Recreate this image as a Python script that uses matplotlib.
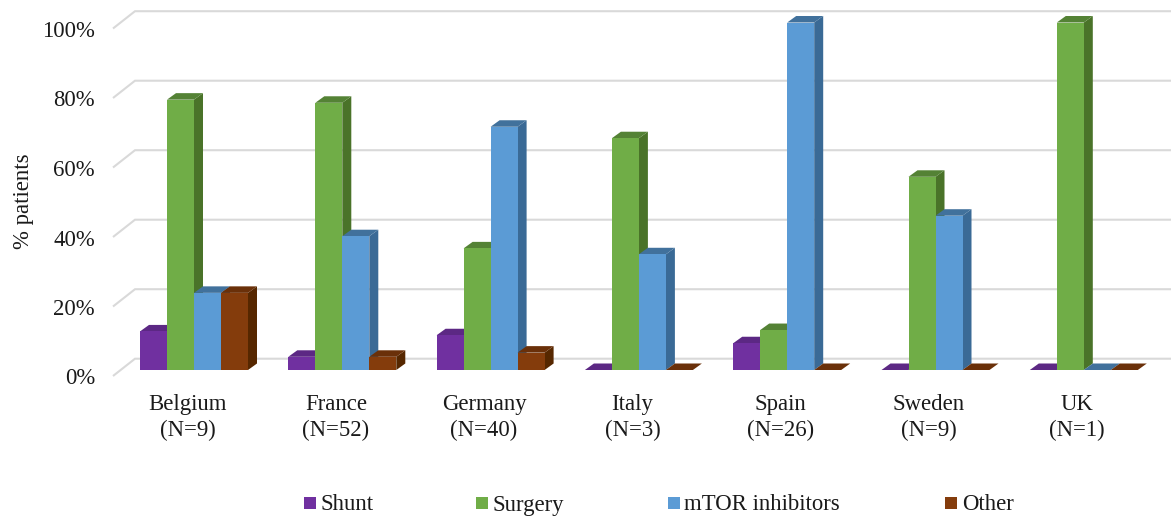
#!/bin/env python3

import matplotlib
matplotlib.use("Agg")
import matplotlib.pyplot as plt
from matplotlib.patches import Polygon, Rectangle
from matplotlib.transforms import ScaledTranslation

plt.rcParams["font.family"] = ["Liberation Serif", "DejaVu Serif"]

countries = ["Belgium", "France", "Germany", "Italy", "Spain", "Sweden", "UK"]
counts = [9, 52, 40, 3, 26, 9, 1]

# percent of patients per country
shunt = [11.1, 3.8, 10.0, 0.0, 7.7, 0.0, 0.0]
surgery = [77.8, 76.9, 35.0, 66.7, 11.5, 55.6, 100.0]
mtor = [22.2, 38.5, 70.0, 33.3, 100.0, 44.4, 0.0]
other = [22.2, 3.8, 5.0, 0.0, 0.0, 0.0, 0.0]

series_names = ["Shunt", "Surgery", "mTOR inhibitors", "Other"]
y_ticks = [0, 20, 40, 60, 80, 100]

W, H = 1171, 517
FS = 16.4
TXT = "#1a1a1a"

# pixel scales of the front plane
px_x = 148.3   # pixels per category
px_y = 3.475   # pixels per percent
left, right, top, floor = 113, 1171, 22.5, 370

front = ["#7030A0", "#70AD47", "#5B9BD5", "#843C0C"]
side = ["#4F2272", "#4A7329", "#3A6A96", "#562700"]
cap = ["#5C2884", "#548235", "#41719C", "#6A3009"]

fig = plt.figure(figsize=(W/100, H/100), dpi=100, facecolor="white")
ax = fig.add_axes([left/W, 1 - floor/H, (right - left)/W, (floor - top)/H])
ax.set_xlim((left - 187.5)/px_x, (right - 187.5)/px_x)
ax.set_ylim(0, (floor - top)/px_y)
for s in ax.spines.values():
    s.set_visible(False)

# floor/wall gridlines: left stub in front, then along the back wall
gx = [(left - 187.5)/px_x, (135 - 187.5)/px_x, (right - 187.5)/px_x]
for v in y_ticks:
    gy = [v - 6/px_y, v + 11.3/px_y, v + 11.3/px_y]
    ax.plot(gx, gy, color="#D9D9D9", lw=1.5, clip_on=False, zorder=1,
            solid_capstyle="butt", solid_joinstyle="miter")

# bars: box depth goes up and to the right
bw = 27/px_x
dx = 9/px_x
dy = 6.5/px_y
shift = 6.5/px_x
for j, vals in enumerate([shunt, surgery, mtor, other]):
    z = 2 + j
    for i, v in enumerate(vals):
        x0 = i + shift + (j - 2)*bw
        x1 = x0 + bw
        ax.add_patch(Polygon([(x1, 0), (x1 + dx, dy), (x1 + dx, v + dy), (x1, v)],
                             facecolor=side[j], edgecolor="none", zorder=z, clip_on=False))
        ax.add_patch(Polygon([(x0, v), (x1, v), (x1 + dx, v + dy), (x0 + dx, v + dy)],
                             facecolor=cap[j], edgecolor="none", zorder=z, clip_on=False))
    ax.bar([i + shift + (j - 1.5)*bw for i in range(len(vals))], vals, width=bw,
           color=front[j], zorder=z, clip_on=False)

ax.set_xticks(range(len(countries)))
ax.set_xticklabels([f"{c}\n(N={n})" for c, n in zip(countries, counts)],
                   fontsize=FS, color=TXT, linespacing=1.27)
ax.set_yticks(y_ticks)
ax.set_yticklabels([f"{v}%" for v in y_ticks], fontsize=FS, color=TXT)
ax.tick_params(axis="x", length=0, pad=17.5)
ax.tick_params(axis="y", length=0, pad=13)
down = ScaledTranslation(0, -6.5/100, fig.dpi_scale_trans)
for lab in ax.get_yticklabels():
    lab.set_transform(lab.get_transform() + down)

fig.text(23/W, 1 - 201/H, "% patients", rotation=90, fontsize=FS, color=TXT,
         ha="center", va="center")

# legend is spaced unevenly in the original, so place it by hand
marker_x = [304, 476, 668, 945]
text_x = [320, 492, 684, 962]
for name, c, mx, tx in zip(series_names, front, marker_x, text_x):
    fig.add_artist(Rectangle((mx/W, 1 - 509/H), 12/W, 12/H, transform=fig.transFigure,
                             facecolor=c, edgecolor="none"))
    fig.text(tx/W, 1 - 510.5/H, name, fontsize=FS, color=TXT, ha="left", va="baseline")

fig.savefig("out.png", dpi=100)
